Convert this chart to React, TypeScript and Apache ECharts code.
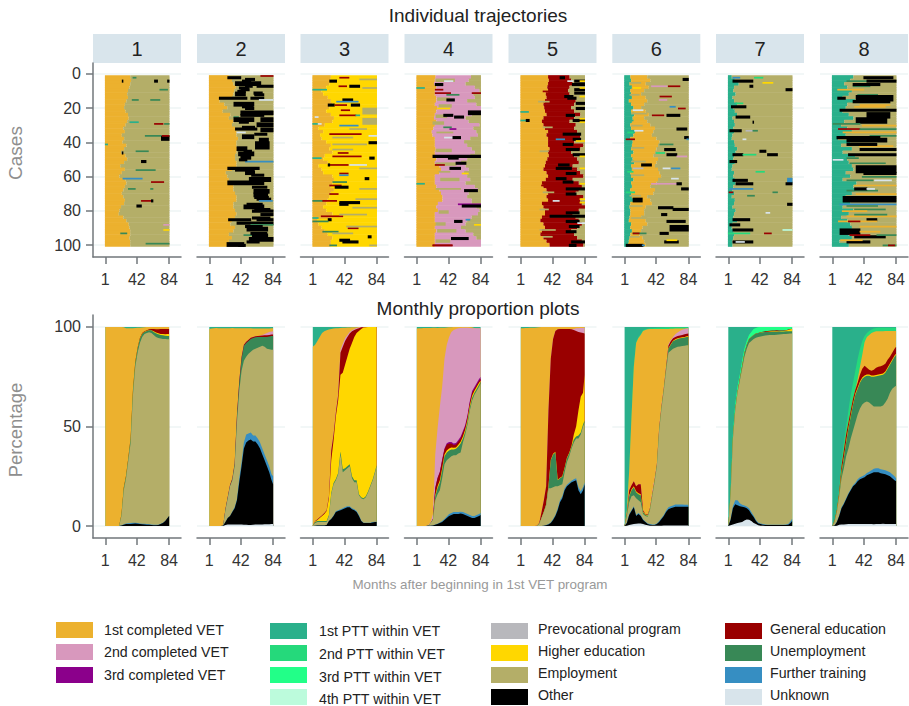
import React, { useEffect, useRef } from "react";
import * as echarts from "echarts";

const V1 = 0, V2 = 1, V3 = 2, P1 = 3, P2 = 4, P3 = 5, P4 = 6, PV = 7, HI = 8, EM = 9, OT = 10, GE = 11, UE = 12, FT = 13, UK = 14;
const stateNames = ["1st completed VET", "2nd completed VET", "3rd completed VET", "1st PTT within VET", "2nd PTT within VET", "3rd PTT within VET", "4th PTT within VET", "Prevocational program", "Higher education", "Employment", "Other", "General education", "Unemployment", "Further training", "Unknown"];
const stateColors = ["#ECB12E", "#D898BD", "#8B008B", "#2AB08B", "#25D97B", "#22FF88", "#BCFBDC", "#B8B8BC", "#FFD700", "#B4AE68", "#000000", "#990000", "#388856", "#368EC2", "#D8E4EB"];
const panelNames = ["1", "2", "3", "4", "5", "6", "7", "8"];
const monthTicks = [1, 42, 84];
const caseTicks = [0, 20, 40, 60, 80, 100];
const pctTicks = [0, 50, 100];
const knots = [1, 4, 7, 10, 13, 16, 19, 22, 25, 28, 31, 34, 37, 40, 43, 46, 49, 52, 55, 58, 61, 64, 67, 70, 73, 76, 79, 82, 84];

// Upper edges of the stacked bands in the proportion plots, percent, per knot month.
const a1: any[] = [
  [OT, [0,0,0,0,0,0,0,.3,.7,1,1,1,1.2,1.3,1.2,1,.9,.8,.7,.6,.5,.4,.4,.5,1,1.5,2.5,4,5]],
  [FT, [0,0,0,0,0,0,0,.3,.9,1.3,1.4,1.5,1.6,1.6,1.5,1.3,1.2,1.1,1,.9,.8,.7,.6,.7,1.1,1.6,2.6,4.1,5.1]],
  [EM, [0,0,0,0,0,0,0,5,18,24,33,42,66,80,87,92,95,96.5,97,97.3,97,96,95,94.5,94.2,94,94,93.8,93.8]],
  [UE, [0,0,0,0,0,0,0,5.5,19,25,34,44,68,82,89,94,96.5,97.5,98,98.3,98.3,97.5,96.8,96.3,96,95.8,95.6,95.5,95.5]],
  [HI, [0,0,0,0,0,0,0,5.6,19.1,25.1,34.2,44.2,68.3,82.2,89.2,94.1,96.6,97.6,98.1,98.4,98.4,97.8,97.2,96.8,96.5,96.4,96.3,96.4,96.5]],
  [GE, [0,0,0,0,0,0,0,5.8,19.4,25.4,34.5,44.5,68.6,82.6,89.6,94.4,96.9,97.9,98.4,98.8,99,99,98.9,98.9,99,99,99,99,99]],
  [V1, [100,100,100,100,100,100,100,100,99.8,99.4,99.3,99.3,99.4,99.5,99.6,99.6,99.7,99.8,100,100,100,100,100,100,100,100,100,100,100]],
];
const a2: any[] = [
  [UK, [0,0,0,0,0,0,0,.5,.8,.8,.8,.8,.8,.8,.8,.6,.6,.5,.5,.7,.8,.8,.8,.8,.9,.9,.9,1,1]],
  [OT, [0,0,0,0,0,0,.2,2,4,5,7,9,13,22,30,39,42,43,43.5,42.5,42.5,41,39,36,33,30,27,23,21]],
  [FT, [0,0,0,0,0,0,.2,2,4,5,7.3,9.5,13.5,24,32,42,46,46.5,47,45.5,45.5,44,42,39,36,33,30,26,25]],
  [EM, [0,0,0,0,0,0,.2,8,14,20,23,30,52,68,78,83,85,86.5,87.5,88.5,89,89.5,90,90.5,90,89,88.8,88.6,88.5]],
  [UE, [0,0,0,0,0,0,.2,8.3,14.3,20.3,23.5,31,55,72,84,90.5,92,93,94,94.5,94.8,95,95,95,95,95,95.2,95.5,95.5]],
  [GE, [0,0,0,0,0,0,.2,8.6,14.7,20.7,24,31.5,56,73,85,91,92.6,93.6,94.6,95,95.3,95.5,95.6,95.7,95.8,95.8,96,96.2,96.2]],
  [V2, [0,0,0,0,0,0,.2,8.6,14.7,20.7,24,31.5,56,73,85,91,92.6,93.6,94.6,95,95.3,95.5,95.6,95.9,96.5,97,97.5,97.7,97.8]],
  [V1, [99,99.2,99.4,99.5,99.4,99.4,99.4,99.4,99.4,99.4,99.5,99.4,99.4,99.3,99.3,99.3,99.3,99.3,99.3,99.2,99.2,99.2,99.2,99.2,99.2,99.2,99.2,99.3,99.3]],
];
const a3: any[] = [
  [OT, [0,.2,.3,.3,.3,.3,.5,2.5,3.5,5,7,7.5,8,8.5,9,9.5,9.5,8.5,8,7,5,2.5,1.5,1.5,1.5,1.5,1.8,2,2]],
  [FT, [0,.2,.3,.3,.3,.3,.5,2.6,3.7,5.3,7.4,8,8.5,9,9.6,10,10,9,8.5,7.5,5.5,2.8,1.7,1.7,1.7,1.7,2,2.2,2.2]],
  [EM, [.3,1.5,2,2,2,2,2,5,16,21,23,26,36,27,28,29,30,24,22,22,15.5,14,13.5,14.5,17,20,23,27,30]],
  [UE, [.3,2,2.5,2.5,2.5,2.5,2.5,5.5,16.6,21.6,23.6,26.6,37.5,28.5,29,30,31,25,23,23,16,14.5,14,15,17.5,20.5,23.5,27.5,30.5]],
  [HI, [.3,2.3,3,4,5,6,7.5,14,33,43,55,63,76,77,81,85,89,92,95,97,98,99,99.7,99.8,100,100,100,100,100]],
  [GE, [.3,2.6,3.4,4.4,5.4,6.5,8,15,38,46,57,66,87,90,93,95,96.7,97.8,98.5,99,99.3,99.8,99.9,100,100,100,100,100,100]],
  [V2, [.3,2.6,3.4,4.4,5.4,6.5,8,15,38.3,46.3,57.5,67,88.5,91.5,94.5,96,97.5,98.3,99,99.5,99.7,99.9,100,100,100,100,100,100,100]],
  [V1, [90,91,93,95,97,97.8,98.3,98.7,99,99.2,99.3,99.4,99.5,99.6,99.6,99.7,99.7,99.8,99.8,99.9,100,100,100,100,100,100,100,100,100]],
];
const a4: any[] = [
  [OT, [0,0,0,0,0,.1,.2,.3,.7,1,1.5,2,3,4,5,5.5,6,6,6,6.3,6,5.5,5,4.5,4,4,4.5,5,5.5]],
  [FT, [0,0,0,0,0,.1,.2,.3,.8,1.2,1.8,2.5,3.6,4.8,6,6.5,7,7,7,7.2,7,6.5,6,5.5,5,5,5.5,6,6.5]],
  [EM, [0,0,0,0,0,.2,1.5,3,13,16,18,24,31,33,34,35,35.5,35.5,36.5,37,42,46,51,58,63,66,68,70,71.5]],
  [UE, [0,0,0,0,0,.2,1.5,3.3,15,19,22,28,35,37,38,38.5,38.5,38.8,40,41.5,44,47.5,52.5,59.5,64.5,67,69,71,72.5]],
  [HI, [0,0,0,0,0,.2,1.5,3.4,15.5,20,23,29,36,38,39,39.5,39.3,39.5,40.8,42.3,45,48.5,53.5,60.5,65.5,68,70,72,73]],
  [GE, [0,0,0,0,0,.2,1.5,3.6,19,24,27,33,38.5,41,41.5,41.5,40.7,41,42.5,44,47,50,55,62,67,69,71,73,74]],
  [V3, [0,0,0,0,0,.2,1.5,3.6,19.3,24.3,27.3,33.4,39,41.6,42.2,42.2,41.4,41.7,43.2,44.8,47.8,50.8,55.8,62.8,67.8,69.8,71.8,73.8,74.8]],
  [V2, [0,0,0,0,0,.5,2,6,36,49,60,70,84,91,95,97.5,98.5,99,99.3,99.5,99.6,99.6,99.6,99.5,99.4,99.4,99.4,99.3,99.3]],
  [V1, [99.2,99.3,99.4,99.5,99.5,99.5,99.5,99.6,99.6,99.5,99.6,99.6,99.6,99.7,99.8,99.9,100,100,100,100,100,100,100,100,99.8,99.5,99.3,99.3,99.3]],
];
const a5: any[] = [
  [OT, [0,0,0,0,0,0,0,0,0,0,.2,.4,.8,1.5,3,5,8,12,14,18,20,21,22,22.5,23,18,16,18,21]],
  [FT, [0,0,0,0,0,0,0,0,0,0,.2,.5,1,1.8,3.5,5.5,8.8,13,15,19,20.8,21.8,22.8,23.5,24,19.5,17.5,19.5,22]],
  [EM, [0,0,0,0,0,0,0,0,1,4,7,10.5,19,19,19.5,20,20,20.5,21,27,32,35,39,42,44,44,46,50,52]],
  [UE, [0,0,0,0,0,0,0,0,1.1,4.1,7.2,10.8,20,33,36,37,23,24,24.7,29,34,36.5,40,43.5,45,45.5,47,51,53]],
  [HI, [0,0,0,0,0,0,0,0,1.2,4.2,7.3,11,20.3,33.3,36.3,37.3,23.3,24.3,25,29.3,34.3,36.8,40.3,46,50,58,65,67,76]],
  [GE, [0,0,0,0,0,0,0,.2,1.5,7,13,20,58,84,94,98,98.8,99,99,99,99,99,98.8,98.5,98,97.5,97.2,97,96.7]],
  [V2, [0,0,0,0,0,0,0,.2,1.5,7,13,20,58,84,94,98,98.8,99,99,99,99,99,99,99,99.3,99.4,99.5,99.5,99.6]],
  [V1, [99.4,99.4,99.5,99.5,99.6,99.6,99.6,99.7,99.8,100,100,100,100,100,100,100,100,100,100,100,100,100,100,100,100,100,100,100,100]],
];
const a6: any[] = [
  [UK, [0,.2,.5,.8,1,1.2,1.3,1.3,1,.7,.4,.2,.1,.1,.1,.1,.2,.3,.3,.3,.3,.3,.3,.3,.3,.3,.3,.3,.3]],
  [OT, [0,1.5,5.5,7.5,9.5,5,6,5,3,2,1,.7,.5,.5,1,2,3.5,5,7,8.5,9,9.3,9.7,9.7,9.7,9.7,9.7,9.7,9.7]],
  [FT, [0,1.7,6,8,10,5.5,6.5,5.5,3.4,2.3,1.3,1,.8,.8,1.3,2.5,4,5.6,7.8,9.5,10,10.3,10.8,10.8,10.8,10.8,10.7,10.7,10.7]],
  [EM, [0,5,12,15,15.5,14,13,12,6,5,4.7,8,15,22,30,48,59,68,78,87,88,89,89.5,90,90.2,90.4,90.6,90.8,90.8]],
  [UE, [0,6,15,18,19.5,17,16,15.5,7,5.5,5.2,8.5,15.5,22.5,30.5,48.5,59.5,68.5,79,89,91,92.8,93.5,94,94.3,94.5,94.7,95,95]],
  [HI, [0,6.3,15.5,18.5,20,17.5,16.5,16,7.3,5.8,5.5,8.8,15.8,22.8,30.8,48.8,59.8,68.8,79.3,89.3,91.3,93.1,93.8,94.3,94.6,94.8,95,95.3,95.3]],
  [GE, [0,6.6,18,20.5,22.5,20,21,21,8,6,5.8,9.1,16.1,23.1,31.1,49.2,60.2,69.2,80,90.5,92.8,94.3,95,95.4,95.7,96,96.3,96.6,96.7]],
  [V2, [0,6.6,18,20.5,22.5,20,21,21,8,6,5.9,9.3,17.5,24,31.5,49.8,61,70,80.8,91.2,93.3,95,96.3,97.2,98,98.6,99,99.2,99.3]],
  [V1, [0,8,28,55,80,92,94.5,96,98,98.5,98.8,99,99,99,99,99,99,99,99,99,99.1,99.1,99.2,99.2,99.2,99.2,99.2,99.3,99.3]],
  [P2, [0,8,28,55,80.5,92.5,95,96.5,98.3,98.8,99.1,99.3,99.4,99.5,99.6,99.6,99.7,99.7,99.8,99.8,99.8,99.9,99.9,99.9,99.9,99.9,99.9,99.9,99.9]],
];
const a7: any[] = [
  [UK, [0,.4,.8,1.2,1.5,1.8,2,2.8,3.3,3.2,2.5,1.5,1,.4,.2,.1,0,0,0,0,0,0,0,0,0,0,0,0,0]],
  [OT, [0,3,9,11,10.5,10,9.7,9.5,9,8,6,4.5,2.5,1.3,1,.7,.5,.5,.5,.5,.5,.5,.5,.5,.5,.5,.6,1.5,2.5]],
  [FT, [0,3.3,10,13,13,11.5,10.7,10.3,9.8,9,7,5.2,3,1.7,1.3,1,.8,.7,.7,.7,.7,.7,.7,.7,.7,.8,1,2.4,3.7]],
  [EM, [0,16,44,58,67,73,79,85,89,92,93,94,94.6,95,95.2,95.5,95.7,95.8,95.9,96,96,96.1,96.2,96.3,96.4,96.5,96.6,96.7,96.7]],
  [UE, [0,16.2,44.5,58.5,67.5,74,80.5,87,91,94,95,96,96.7,97,97.2,97.3,97.4,97.5,97.5,97.6,97.6,97.6,97.7,97.7,97.7,97.8,97.8,97.8,97.8]],
  [HI, [0,16.2,44.5,58.5,67.5,74,80.5,87,91,94,95,96,96.7,97,97.2,97.4,97.5,97.6,97.7,97.8,97.8,97.9,97.9,98,98,98.2,98.5,98.8,99]],
  [GE, [0,16.2,44.5,58.5,67.5,74,80.5,87,91,94,95,96,96.7,97,97.3,97.6,97.8,98,98.1,98.2,98.2,98.3,98.2,98.2,98.2,98.4,98.7,99,99.1]],
  [P2, [0,17,45.5,60,69,75,81,87.5,91.5,94.5,96,97.5,98.5,99.1,99.4,99.5,99.6,99.6,99.6,99.7,99.7,99.7,99.7,99.7,99.7,99.8,99.8,99.8,99.8]],
  [P3, [0,17,46,61,70,76,83,89,93,96,97.5,99,99.5,99.8,100,100,100,100,100,100,100,100,100,100,100,100,100,100,100]],
];
const a8: any[] = [
  [UK, [0,0,.2,.6,.8,.8,.9,1,1,1,1,1,1,1,1,1,1,1,.9,1,1,1,1.1,1,1,1,1,1,1]],
  [OT, [0,.3,2,5,9,11,13.5,16,18,20,21,22.5,23.5,24,24.5,25.5,26,26.5,27,27,27,26.5,26.3,26,25.5,25,24,23,22.5]],
  [FT, [0,.3,2.2,5.3,9.5,11.5,14,16.5,18.5,20.5,21.7,23.5,24.5,25,25.7,26.7,27.3,28,28.8,29,29,28.5,28.3,28,27.5,27,26,25,24]],
  [EM, [0,2,7,15,24,29,35,39,44,48,52,56,59,61,62,62.5,62,61,60,60,60,60,60.5,62,64,67,69,70,70.5]],
  [UE, [0,2.3,7.5,15.5,27,34,42,49,55,61,66,69,72,74,75,75.5,75.5,75,75,75.3,75.5,75.8,76,77,79,81,83,85,86]],
  [HI, [0,2.5,7.8,15.9,27.5,34.5,42.6,49.6,55.6,61.6,66.6,69.6,72.6,74.6,75.6,76.1,76.1,75.6,75.6,75.9,76.1,76.4,76.6,77.6,79.6,81.6,83.6,85.6,86.6]],
  [GE, [0,2.8,8.3,17,30,38,46,52,58,64,68.5,72,76,79,80.5,79.5,78.5,78,78.5,79.5,80,80.2,80.8,81.5,83.5,85,87,89,90]],
  [V1, [0,2.8,8.3,17,30,38,46,52,58,64,68.5,74,80,86,92.5,95,96,97,97.4,97.8,97.8,97.9,97.9,98,98,98,98,98,98]],
  [P2, [0,3,9,19,33,42,50,58,66,72,78,84,89,93,95.5,97,98,98.7,99.2,99.5,99.6,99.6,99.6,99.6,99.6,99.6,99.6,99.6,99.6]],
];
const areaEdges = [a1, a2, a3, a4, a5, a6, a7, a8];
const stackOrder = [UK, OT, FT, EM, UE, HI, GE, PV, V3, V2, V1, P4, P3, P2, P1];

// End month of a state per pair of cases in the trajectories.
const t1Vet = [33,34,33,32,30,29,30,28,26,25,27,30,31,29,27,24,26,22,25,23,28,25,21,27,29,25,20,26,22,19,27,28,26,24,22,24,26,25,21,19,18,24,28,31,32,33,33,32,33,33];
const t2Vet = [26,30,32,35,33,32,30,14,20,24,18,28,26,32,30,34,36,36,38,36,36,38,36,34,34,36,36,30,22,24,26,30,32,32,34,36,36,32,32,34,36,34,30,28,34,32,26,30,26,24];
const t3Vet = [24,23,22,18,12,14,20,24,26,22,18,24,28,26,16,8,14,10,12,18,24,22,26,16,14,20,8,12,14,26,28,26,24,28,24,22,20,18,14,18,26,24,6,8,12,16,20,26,24,24];
const t4Vet = [25,24,23,26,24,24,26,26,24,27,26,24,23,26,24,22,20,21,24,24,24,25,24,24,26,24,30,32,30,24,24,24,26,30,32,34,34,28,26,28,24,24,24,26,24,26,24,24,24,24];
const t4Second = [71,68,64,76,82,74,76,66,78,84,84,72,64,68,82,74,78,80,70,62,66,72,76,70,66,58,64,68,62,66,70,64,76,80,68,66,72,72,78,82,80,72,66,64,58,64,74,78,84,84];
const t5Vet = [36,37,36,35,36,33,34,32,30,31,32,34,30,28,30,32,36,34,36,36,36,38,36,37,35,33,32,30,34,36,33,28,30,34,36,34,36,28,30,32,32,28,26,30,32,28,26,30,34,38];
const t5Gen = [64,66,68,64,62,64,68,72,70,66,70,78,70,64,72,70,74,78,78,70,82,78,66,70,74,76,68,74,78,82,68,76,80,76,72,82,78,80,84,76,68,72,76,80,74,66,70,74,80,82];
const t6Ptt = [8,9,7,10,8,9,10,6,9,12,9,13,11,10,8,9,14,12,8,11,10,9,12,9,11,13,9,10,8,9,12,9,10,8,9,10,12,8,7,8,8,7,6,9,8,10,8,7,6,5];
const t6Vet = [30,34,28,32,26,22,28,30,26,22,28,32,26,30,34,40,38,36,42,46,44,42,40,38,44,42,40,44,46,48,44,42,34,40,38,30,34,36,28,26,26,22,28,30,24,22,20,24,26,28];
const t7Ptt = [5,9,14,8,7,10,6,8,12,7,9,12,6,8,9,7,8,6,5,8,9,12,10,8,7,9,6,5,8,7,9,10,7,6,8,5,9,8,6,10,8,7,12,6,5,7,8,7,6,6];
const t8Ptt = [28,24,16,20,26,22,14,30,20,18,14,22,28,16,12,20,26,18,8,24,12,26,14,30,20,22,26,28,18,24,14,32,28,30,26,18,20,24,14,28,22,12,20,24,26,18,22,26,10,22];

// Single spells: first case, last case, first month, last month, state.
const s1 = [[3,3,23,24,OT],[1,1,37,41,UE],[3,3,65,69,OT],[3,3,82,84,OT],[8,8,72,82,UE],[14,14,36,44,UE],[14,14,60,72,UE],[27,27,33,44,P1],[28,28,65,76,GE],[28,28,78,84,UE],[35,35,53,84,UE],[36,37,74,84,OT],[35,35,75,84,GE],[40,40,1,4,P1],[44,44,41,57,UE],[45,45,23,24,OT],[50,50,48,54,OT],[55,55,41,66,UE],[60,60,24,49,FT],[62,62,61,77,GE],[66,66,31,40,UE],[66,66,60,63,UE],[76,76,42,48,OT],[73,73,48,61,GE],[73,73,61,63,OT],[87,87,77,84,V2],[90,90,77,84,HI],[92,92,21,29,UE],[98,98,54,84,UE]];
const s2 = [[0,0,68,84,GE],[1,1,25,42,OT],[2,2,48,60,OT],[4,5,35,68,OT],[6,6,48,57,OT],[6,6,63,84,OT],[8,8,42,53,OT],[10,11,35,48,OT],[10,10,59,70,OT],[13,13,14,50,OT],[13,13,55,72,OT],[14,14,66,84,UK],[16,17,33,59,OT],[19,19,48,59,OT],[21,22,42,84,OT],[23,23,42,72,OT],[24,24,33,39,UE],[25,26,33,59,OT],[25,26,68,84,OT],[28,29,63,84,OT],[31,31,35,63,OT],[31,32,68,84,OT],[33,33,37,48,UK],[35,36,44,59,OT],[39,42,61,79,OT],[42,43,37,50,OT],[45,46,39,59,OT],[47,48,42,55,OT],[50,50,48,84,FT],[54,54,25,66,OT],[55,55,35,59,OT],[60,61,53,81,OT],[62,63,25,72,OT],[67,68,59,79,OT],[69,70,59,77,OT],[72,72,63,81,OT],[73,73,66,83,FT],[76,77,46,72,OT],[79,79,57,84,OT],[81,81,68,84,OT],[84,84,26,55,OT],[84,84,63,84,OT],[86,86,37,84,OT],[87,87,55,84,UE],[89,90,50,77,OT],[93,93,46,77,UE],[93,94,57,77,OT],[95,96,53,84,OT],[98,99,24,46,OT],[99,99,39,48,OT],[3,3,44,55,OT],[7,7,40,52,OT],[9,9,38,48,OT],[11,11,60,72,OT],[18,18,44,58,OT],[27,27,40,52,OT],[30,30,44,60,OT],[34,34,60,76,OT],[37,38,66,78,OT],[44,44,46,56,OT],[49,49,40,50,OT],[56,57,48,60,OT],[58,58,56,72,OT],[65,65,57,76,OT],[71,71,60,78,OT],[75,75,50,70,OT],[78,78,60,80,OT],[83,83,57,80,OT],[88,88,48,70,OT],[92,92,55,76,OT],[97,97,50,66,OT]];
const s3 = [[1,1,36,48,GE],[3,3,23,32,OT],[6,6,35,45,GE],[6,6,49,62,OT],[8,8,1,19,P1],[14,14,40,53,OT],[15,15,32,60,FT],[17,17,21,29,OT],[17,17,30,45,GE],[17,17,51,62,OT],[20,20,38,49,GE],[23,23,36,57,GE],[23,23,57,62,P1],[24,24,4,8,UK],[28,28,1,8,P1],[28,28,8,12,UK],[29,29,36,60,FT],[34,34,23,64,GE],[35,35,74,84,UK],[39,39,74,84,OT],[45,45,34,47,GE],[47,47,27,64,GE],[48,48,75,81,OT],[48,48,1,12,P1],[52,52,23,47,GE],[52,52,21,23,OT],[52,52,49,71,UK],[57,57,36,47,GE],[58,58,36,47,FT],[60,60,69,74,OT],[62,62,27,45,UE],[64,64,23,38,GE],[65,65,30,47,OT],[69,69,23,34,GE],[73,73,1,14,UE],[73,73,14,32,GE],[74,74,36,62,OT],[75,75,36,47,OT],[82,82,12,40,GE],[83,83,1,8,P1],[84,84,21,25,OT],[85,85,1,21,UE],[89,89,47,60,GE],[91,91,14,34,UE],[94,94,73,77,OT],[96,96,36,49,OT],[97,97,40,60,OT],[99,99,23,32,UE],[2,2,62,84,EM],[7,7,66,84,EM],[19,22,66,84,EM],[25,28,66,84,EM],[31,31,49,71,EM],[36,36,27,53,EM],[40,40,27,71,EM],[43,43,27,53,EM],[54,54,62,84,EM],[66,66,62,84,EM],[72,72,57,84,EM],[77,77,53,84,EM],[81,81,36,71,EM],[88,88,45,84,EM],[92,92,27,53,EM],[99,99,75,84,EM]];
const s4 = [[2,3,26,50,EM],[13,14,28,44,EM],[17,18,30,46,EM],[23,24,26,40,EM],[27,28,22,36,EM],[33,33,27,48,EM],[43,44,26,46,EM],[51,52,26,52,EM],[56,56,30,44,EM],[60,61,32,56,EM],[66,66,26,58,EM],[79,80,30,42,EM],[86,87,26,38,EM],[90,91,28,52,EM],[96,97,26,44,EM],[3,3,37,48,UK],[5,5,25,35,OT],[8,8,25,35,GE],[10,10,25,45,GE],[10,10,73,84,GE],[7,7,1,11,P1],[14,14,40,50,OT],[21,22,68,84,OT],[23,23,36,48,OT],[24,24,50,62,OT],[31,31,44,52,V3],[36,36,37,48,UK],[36,36,48,58,OT],[47,47,22,84,OT],[48,48,42,55,OT],[51,51,52,65,OT],[52,52,25,37,GE],[54,54,44,58,OT],[57,57,60,68,HI],[63,63,1,11,P1],[67,67,63,80,OT],[75,75,55,84,V3],[76,76,60,84,OT],[85,85,50,60,OT],[84,84,65,70,FT],[87,87,76,84,HI],[95,95,46,68,OT],[100,100,22,47,GE],[99,99,22,47,GE],[11,11,40,56,UE],[19,19,28,44,HI],[30,30,36,46,UE]];
const s5 = [[1,1,52,58,OT],[3,3,71,84,OT],[5,5,68,84,OT],[8,8,71,84,OT],[10,10,71,84,OT],[12,12,58,69,OT],[13,13,62,73,OT],[16,16,73,84,OT],[19,19,73,84,OT],[23,23,60,71,OT],[26,26,69,84,OT],[34,34,56,79,OT],[37,37,69,79,OT],[40,40,56,69,OT],[43,43,60,77,OT],[46,46,69,84,OT],[52,52,50,64,OT],[54,54,47,67,OT],[57,57,60,73,OT],[60,60,47,60,OT],[62,62,56,69,OT],[66,66,60,84,OT],[69,69,60,73,OT],[80,80,60,77,OT],[82,82,39,84,OT],[85,85,60,77,OT],[88,88,64,77,OT],[91,91,60,73,OT],[97,97,67,84,OT],[99,99,64,73,OT],[3,3,78,84,HI],[7,7,78,84,HI],[12,12,78,84,HI],[25,25,78,84,HI],[27,27,78,84,HI],[38,38,73,84,HI],[47,47,78,84,HI],[54,54,78,84,HI],[63,63,78,84,HI],[72,72,78,84,HI],[74,74,78,84,HI],[3,3,62,69,UK],[73,73,43,51,UK],[86,86,75,84,UK],[37,37,47,58,FT],[21,21,1,11,P1],[26,26,1,11,P1],[26,26,8,12,OT],[15,15,24,38,EM],[30,30,30,42,EM],[44,44,26,37,EM],[68,68,30,44,EM],[78,78,26,37,EM],[90,90,26,46,EM],[94,94,30,42,EM],[9,9,30,40,GE],[64,64,28,38,GE]];
const s6 = [[4,4,8,22,EM],[11,11,8,20,EM],[22,22,10,30,EM],[29,29,10,24,EM],[42,42,10,26,EM],[50,50,10,28,EM],[58,58,10,26,EM],[70,70,8,22,EM],[76,76,8,24,EM],[83,83,10,30,EM],[94,94,8,20,EM],[2,2,77,84,OT],[6,6,36,56,V2],[6,6,58,73,GE],[7,7,12,22,HI],[12,12,47,62,GE],[14,14,46,56,V2],[18,18,60,67,FT],[19,19,71,80,GE],[20,20,12,25,UK],[23,23,37,52,GE],[23,23,56,73,OT],[31,31,69,82,OT],[32,32,14,25,UK],[37,37,3,14,GE],[36,36,79,84,OT],[37,37,82,84,FT],[40,40,47,64,UE],[43,43,53,67,OT],[45,45,42,53,P2],[46,46,56,69,OT],[47,47,69,82,V2],[52,52,23,36,OT],[54,54,12,25,PV],[54,54,51,60,UK],[54,54,62,73,FT],[60,60,62,71,UK],[63,63,36,69,V2],[63,63,69,75,OT],[66,66,75,84,OT],[72,73,12,24,OT],[77,77,45,64,OT],[78,78,64,84,OT],[81,81,49,56,OT],[85,85,56,80,OT],[88,90,60,84,OT],[92,92,12,29,UE],[92,92,12,20,GE],[92,92,47,58,OT],[97,97,53,71,OT],[96,96,56,69,HI],[99,99,3,25,OT],[99,99,24,27,FT],[56,56,5,12,P2],[68,68,3,14,P2],[33,33,5,12,P2],[26,26,5,12,P1]];
const s7 = [[1,1,7,16,FT],[1,1,35,46,P2],[3,3,7,33,OT],[4,4,46,59,HI],[6,6,29,33,OT],[8,8,76,84,OT],[16,16,11,20,P2],[18,18,5,24,OT],[24,24,11,29,OT],[27,27,33,34,OT],[32,32,3,18,OT],[32,32,24,33,PV],[32,32,33,39,UE],[37,37,20,24,UK],[44,44,42,50,OT],[46,46,7,20,OT],[46,46,20,37,P2],[46,46,52,65,OT],[50,50,3,12,OT],[56,56,37,48,P2],[61,61,7,26,OT],[63,63,11,33,OT],[66,66,3,33,FT],[68,68,2,7,GE],[68,68,59,65,UE],[60,62,78,84,FT],[63,63,76,84,OT],[75,75,78,84,OT],[80,80,50,55,UK],[84,84,7,29,OT],[87,87,3,16,OT],[90,90,7,33,OT],[90,90,72,84,P4],[92,92,1,29,P2],[92,92,48,57,GE],[97,97,7,33,OT],[97,97,11,22,UK],[70,70,26,35,UE]];
const s8 = [[6,6,28,50,UE],[11,11,34,60,UE],[18,18,30,70,V1],[29,29,40,84,V1],[35,35,50,84,UE],[41,41,36,80,V1],[51,51,24,70,UE],[59,59,40,84,UE],[64,64,30,84,V1],[67,67,20,60,UE],[78,78,30,70,UE],[82,82,20,84,V1],[94,94,30,70,OT],[97,97,20,50,OT],[1,1,42,80,OT],[3,3,20,46,UE],[3,3,46,84,OT],[5,5,28,63,OT],[8,8,8,42,V1],[12,14,32,80,OT],[13,13,8,18,OT],[15,15,28,76,OT],[17,17,37,76,V1],[20,20,11,84,OT],[22,24,46,76,OT],[25,27,32,72,OT],[28,28,2,37,UE],[31,31,9,37,GE],[31,31,37,84,UE],[33,33,15,84,V1],[36,36,7,63,OT],[37,38,20,72,OT],[40,40,20,59,OT],[43,43,37,84,OT],[46,46,22,84,OT],[49,49,2,15,UK],[53,56,32,84,OT],[57,57,42,84,OT],[61,61,56,78,UK],[61,61,20,54,UE],[66,66,30,46,OT],[66,66,46,56,UK],[69,69,32,84,V1],[71,73,15,84,OT],[75,75,11,84,FT],[76,76,20,60,UE],[84,84,46,59,OT],[85,85,9,59,V1],[85,85,22,37,GE],[88,88,37,84,V1],[90,92,11,37,OT],[91,91,37,63,V1],[93,93,24,50,GE],[93,93,59,84,UE],[96,96,12,40,V1],[99,99,67,84,UE],[99,99,74,82,GE],[48,48,20,35,UE],[79,79,14,46,V1],[81,81,30,72,UE]];
const spells = [s1, s2, s3, s4, s5, s6, s7, s8];

const trajectoryBase: any[] = [
  { parts: [[V1, t1Vet]], rest: EM },
  { parts: [[V1, t2Vet]], rest: EM },
  { parts: [[V1, t3Vet]], rest: HI },
  { parts: [[V1, t4Vet], [V2, t4Second]], rest: EM },
  { parts: [[V1, t5Vet], [GE, t5Gen]], rest: EM },
  { parts: [[P1, t6Ptt], [V1, t6Vet]], rest: EM },
  { parts: [[P1, t7Ptt]], rest: EM },
  { parts: [[P1, t8Ptt]], rest: EM },
];

const legendColumns = [
  { x: 56, tx: 104, items: [[V1, 622, 630], [V2, 644, 652], [V3, 667, 675]] },
  { x: 270, tx: 319, items: [[P1, 623, 631], [P2, 645, 654], [P3, 667, 677], [P4, 689, 699]] },
  { x: 491, tx: 538, items: [[PV, 623, 629], [HI, 645, 651], [EM, 667, 673], [OT, 689, 695]] },
  { x: 725, tx: 770, items: [[GE, 623, 629], [UE, 645, 651], [FT, 667, 673], [UK, 689, 695]] },
];

const FONT = "'Liberation Sans', Arial, sans-serif";
const AXIS = "#72777B";
const gridLefts = [93, 197, 300.5, 404.5, 508.5, 612.3, 716, 820];

function buildRows(panel: number) {
  const base = trajectoryBase[panel];
  const rows: number[][] = [];
  for (let r = 0; r < 100; r++) {
    const b = Math.floor(r / 2);
    let start = 1;
    for (const [state, arr] of base.parts) {
      rows.push([r, r, start, arr[b], state, 0]);
      start = arr[b] + 1;
    }
    rows.push([r, r, start, 84, base.rest, 0]);
  }
  spells[panel].forEach((s) => rows.push([Math.min(s[0], 99), Math.min(s[1], 99), s[2], s[3], s[4], 1]));
  return rows;
}

function renderSpell(_: any, api: any) {
  const spell = api.value(5) === 1;
  const grow = spell && api.value(4) === OT ? 0.4 : 0;
  const a = api.coord([api.value(2) - 0.5, api.value(0) + 0.7 - grow]);
  const b = api.coord([api.value(3) + 0.5, api.value(1) + 1.7 + grow]);
  return {
    type: "rect",
    shape: { x: a[0], y: a[1], width: b[0] - a[0], height: b[1] - a[1] + (spell ? 0 : 0.6) },
    style: { fill: stateColors[api.value(4)] },
  };
}

function buildOption() {
  const grid: any[] = [], xAxis: any[] = [], yAxis: any[] = [], series: any[] = [];
  const axisX = (gridIndex: number) => ({
    type: "value", gridIndex, min: -15, max: 99.5,
    axisLine: { onZero: false, lineStyle: { color: AXIS, width: 1.5 } },
    axisTick: { customValues: monthTicks, length: 7, lineStyle: { color: AXIS, width: 1.5 } },
    axisLabel: { customValues: monthTicks, color: "#333", fontSize: 16, fontFamily: FONT, margin: 14 },
    splitLine: { show: false },
  });
  const axisY = (gridIndex: number, first: boolean, ticks: number[], min: number, max: number, inverse: boolean) => ({
    type: "value", gridIndex, min, max, inverse,
    axisLine: { show: first, onZero: false, lineStyle: { color: AXIS, width: 1.5 } },
    axisTick: { show: first, customValues: ticks, length: 7, lineStyle: { color: AXIS, width: 1.5 } },
    axisLabel: { show: first, customValues: ticks, color: "#333", fontSize: 16, fontFamily: FONT, margin: 12 },
    splitLine: { show: true, lineStyle: { color: "#EEF5F5", width: 1.5 } },
  });
  panelNames.forEach((_, p) => {
    grid.push({ left: gridLefts[p], width: 88, top: 63, height: 194 });
    xAxis.push(axisX(p));
    yAxis.push(axisY(p, p === 0, caseTicks, -6.4, 107, true));
    series.push({
      type: "custom", coordinateSystem: "cartesian2d", xAxisIndex: p, yAxisIndex: p,
      renderItem: renderSpell, data: buildRows(p), encode: { x: [2, 3], y: [0, 1] }, silent: true, clip: false, z: 3,
    });
  });
  panelNames.forEach((_, p) => {
    const g = p + 8;
    grid.push({ left: gridLefts[p], width: 88, top: 315, height: 223 });
    xAxis.push(axisX(g));
    yAxis.push(axisY(g, p === 0, pctTicks, -6, 106, false));
    const edges = new Map<number, number[]>(areaEdges[p]);
    const prev = knots.map(() => 0);
    const bands: any[] = [];
    stackOrder.forEach((state) => {
      const edge = state === P1 ? knots.map(() => 100) : edges.get(state);
      if (!edge) return;
      const data = knots.map((m, i) => {
        prev[i] = Math.max(prev[i], edge[i]);
        return [m, prev[i]];
      });
      bands.push({
        type: "line", xAxisIndex: g, yAxisIndex: g, data, name: stateNames[state],
        symbol: "none", silent: true,
        lineStyle: { width: 0, opacity: 0 }, itemStyle: { color: stateColors[state] },
        areaStyle: { color: stateColors[state], opacity: 1, origin: 0 }, z: 3,
      });
    });
    // The highest band is painted first, each lower one over it down to zero.
    bands.reverse().forEach((b) => series.push(b));
  });

  const graphic: any[] = [];
  const text = (t: string, x: number, y: number, fontSize: number, fill: string, align = "center", rotation = 0) => ({
    type: "text", x, y, rotation, z: 10,
    style: { text: t, fontSize, fill, fontFamily: FONT, align, verticalAlign: "middle" },
  });
  graphic.push(text("Individual trajectories", 478, 15, 19, "#222"));
  graphic.push(text("Monthly proportion plots", 478, 308, 19, "#222"));
  graphic.push(text("Cases", 15, 153, 19, "#8E8E8E", "center", Math.PI / 2));
  graphic.push(text("Percentage", 15, 430, 18.5, "#8E8E8E", "center", Math.PI / 2));
  graphic.push(text("Months after beginning in 1st VET program", 480, 584, 13.4, "#999999"));
  panelNames.forEach((n, p) => {
    graphic.push({ type: "rect", shape: { x: gridLefts[p], y: 34, width: 88, height: 29 }, style: { fill: "#D9E5EC" } });
    graphic.push(text(n, gridLefts[p] + 44, 48.5, 20, "#222"));
  });
  legendColumns.forEach((c) => {
    c.items.forEach(([state, sy, ty]) => {
      graphic.push({ type: "rect", shape: { x: c.x, y: sy, width: 37, height: 16 }, style: { fill: stateColors[state] } });
      graphic.push(text(stateNames[state], c.tx, ty, 14.2, "#222", "left"));
    });
  });
  return { animation: false, backgroundColor: "#ffffff", grid, xAxis, yAxis, series, graphic };
}

export default function App() {
  const ref = useRef<HTMLDivElement>(null);
  useEffect(() => {
    const chart = echarts.init(ref.current!, undefined, { renderer: "svg" });
    chart.setOption(buildOption() as any);
    return () => chart.dispose();
  }, []);
  return <div ref={ref} style={{ position: "absolute", left: 0, top: 0, width: 909, height: 706 }} />;
}
